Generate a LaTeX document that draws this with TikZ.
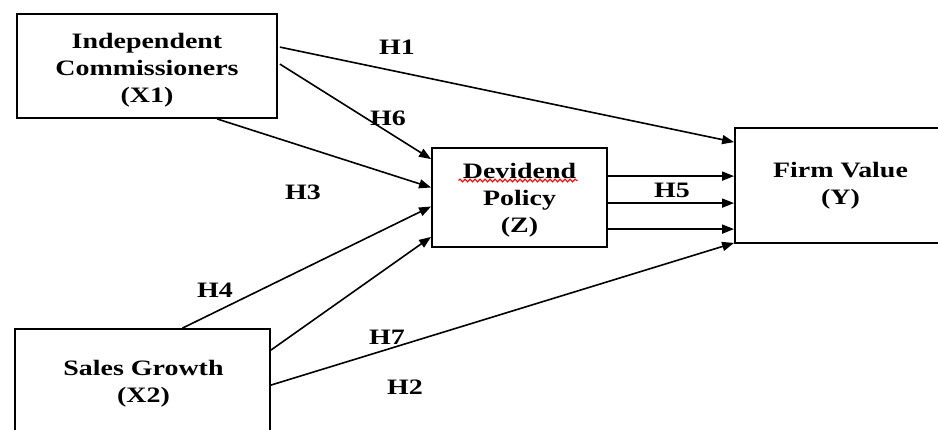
\documentclass[tikz,border=0pt]{standalone}
\usepackage{fontspec}
\setmainfont{Liberation Serif}[FakeStretch=1.27]
\usetikzlibrary{arrows.meta,decorations.pathmorphing,calc}
\begin{document}
\begin{tikzpicture}[x=1pt,y=-1pt,
  box/.style={draw,line width=1.8pt,rectangle,inner sep=0pt},
  txt/.style={inner sep=0pt,align=center,font=\fontsize{22}{27}\selectfont\bfseries},
  lbl/.style={inner sep=0pt,font=\fontsize{22}{27}\selectfont\bfseries},
  conn/.style={line width=1.6pt,-{Triangle[length=12pt,width=9pt]}}]
\clip (0,0) rectangle (938,430);
\fill[white] (0,0) rectangle (938,430);
\node[box,minimum width=260pt,minimum height=104pt] (X1) at (147,66) {};
\node[txt] (X1t) at ([yshift=-4pt]X1.center) {Independent\\Commissioners\\(X1)};
\node[box,minimum width=175pt,minimum height=99pt] (Z) at (519.5,197.5) {};
\node[txt] (Zt) at ([yshift=-2.5pt]Z.center) {Devidend\\Policy\\(Z)};
\node[box,minimum width=215pt,minimum height=115pt] (Y) at (842.5,185.5) {};
\node[txt] (Yt) at ([xshift=-2pt]Y.center) {Firm Value\\(Y)};
\node[box,minimum width=255pt,minimum height=111pt] (X2) at (142.5,384.5) {};
\node[txt] (X2t) at ([xshift=1pt,yshift=1pt]X2.center) {Sales Growth\\(X2)};
% red wavy underline
\coordinate (ul1) at ([xshift=-61pt,yshift=17pt]Z.center);
\coordinate (ul2) at ([xshift=58pt,yshift=17pt]Z.center);
\draw[red,line width=1.1pt,decorate,decoration={snake,amplitude=1.4pt,segment length=5pt}] (ul1) -- (ul2);
% connectors
\draw[conn] ([xshift=2pt,yshift=-34pt]X1.north east) -- ([yshift=-15pt]Y.north west);
\draw[conn] ([xshift=2pt,yshift=-51pt]X1.north east) -- ([yshift=-12pt]Z.north west);
\draw[conn] ([xshift=70pt]X1.south) -- ([yshift=10pt]Z.west);
\draw[conn] ([xshift=40pt]X2.north) -- ([yshift=-9pt]Z.west);
\draw[conn] ([yshift=-22pt]X2.north east) -- ([yshift=11pt]Z.south west);
\draw[conn] ([yshift=-57pt]X2.north east) -- ([yshift=1pt]Y.south west);
\coordinate (z1) at ([yshift=-29pt]Z.north east);
\coordinate (z2) at ([yshift=-56pt]Z.north east);
\coordinate (z3) at ([yshift=-82pt]Z.north east);
\draw[conn] (z1) -- (z1 -| Y.west);
\draw[conn] (z2) -- (z2 -| Y.west);
\draw[conn] (z3) -- (z3 -| Y.west);
% labels
\node[lbl] (h1) at (397,47) {H1};
\node[lbl] (h6) at (388,118) {H6};
\node[lbl] (h3) at (303,192) {H3};
\node[lbl] (h4) at (215,290) {H4};
\node[lbl] (h7) at (387,337) {H7};
\node[lbl] (h2) at (405,387) {H2};
\node[lbl] (h5) at (672,190) {H5};
\end{tikzpicture}
\end{document}
